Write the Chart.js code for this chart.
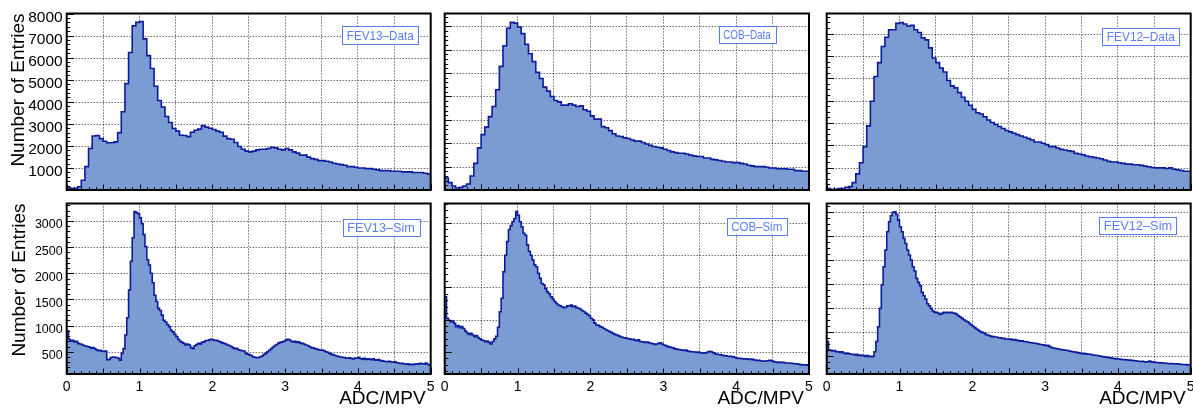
<!DOCTYPE html>
<html><head><meta charset="utf-8">
<script src="https://cdn.jsdelivr.net/npm/chart.js@4.4.1/dist/chart.umd.min.js"></script>
<style>
html,body{margin:0;padding:0;background:#fff;}
#wrap{position:relative;width:1193px;height:408px;overflow:hidden;background:#fff;}
canvas{position:absolute;left:0;top:0;}
</style></head><body><div id="wrap"></div>
<script>
// ---------- DATA ----------
const xRange = [0, 5];
const xTickLabels = ['0', '1', '2', '3', '4', '5'];
const panelLabels = ['FEV13–Data', 'COB–Data', 'FEV12–Data', 'FEV13–Sim', 'COB–Sim', 'FEV12–Sim'];
const yAxisTitle = 'Number of Entries';
const xAxisTitle = 'ADC/MPV';

// 100 bins of 0.05 (top row)
const fev13Data = [100, 80, 80, 150, 440, 1060, 1880, 2450, 2470, 2330,
  2210, 2140, 2140, 2180, 2600, 3550, 4820, 6230, 7440, 7600,
  7640, 6850, 6090, 5510, 4700, 4060, 3760, 3330, 3060, 2790,
  2670, 2480, 2470, 2420, 2620, 2710, 2760, 2920, 2850, 2800,
  2740, 2670, 2620, 2440, 2330, 2300, 2150, 1970, 1850, 1760,
  1730, 1760, 1820, 1850, 1850, 1880, 1940, 1910, 1850, 1820,
  1880, 1820, 1730, 1670, 1580, 1580, 1490, 1420, 1390, 1330,
  1330, 1300, 1270, 1210, 1180, 1150, 1120, 1060, 1060, 1030,
  1000, 1000, 970, 970, 940, 910, 880, 880, 880, 850,
  850, 850, 820, 820, 820, 790, 790, 790, 760, 730];

const cobData = [514, 314, 171, 86, 114, 171, 257, 600, 1140, 1800,
  2370, 2690, 3140, 3570, 4290, 5290, 6170, 6920, 7170, 7140,
  6970, 6690, 6230, 5830, 5490, 5030, 4770, 4400, 4230, 4000,
  3830, 3770, 3630, 3630, 3690, 3630, 3570, 3600, 3430, 3370,
  3170, 3030, 3030, 2710, 2660, 2540, 2400, 2310, 2290, 2230,
  2200, 2140, 2090, 2090, 2030, 1970, 1910, 1860, 1830, 1800,
  1740, 1690, 1630, 1600, 1570, 1570, 1540, 1490, 1460, 1430,
  1430, 1370, 1370, 1310, 1290, 1260, 1230, 1200, 1200, 1170,
  1170, 1140, 1110, 1060, 1030, 1000, 1000, 1000, 970, 940,
  940, 910, 910, 910, 890, 890, 830, 830, 800, 800];

const fev12Data = [60, 30, 30, 60, 60, 120, 150, 330, 720, 1220,
  1940, 2870, 3970, 5080, 5700, 6420, 6840, 7170, 7170, 7460,
  7490, 7430, 7340, 7370, 7170, 7050, 6810, 6720, 6360, 5910,
  5700, 5460, 5280, 4900, 4660, 4570, 4360, 4150, 3970, 3790,
  3610, 3460, 3400, 3280, 3130, 3020, 2930, 2840, 2750, 2660,
  2600, 2540, 2480, 2420, 2360, 2300, 2240, 2150, 2150, 2090,
  2030, 1940, 1940, 1880, 1820, 1790, 1760, 1730, 1640, 1610,
  1580, 1520, 1490, 1460, 1430, 1400, 1340, 1280, 1250, 1250,
  1220, 1190, 1160, 1160, 1130, 1130, 1100, 1070, 1040, 1010,
  990, 990, 990, 960, 990, 930, 900, 870, 840, 840];

// 200 bins of 0.025 (bottom row)
const fev13Sim = [900, 740, 700, 720, 690, 700, 660, 650, 640, 620,
  610, 600, 590, 570, 580, 560, 540, 520, 530, 510,
  505, 515, 350, 355, 390, 400, 395, 390, 375, 340,
  470, 560, 820, 1150, 1680, 2230, 2680, 3180, 3160, 3140,
  3060, 2950, 2740, 2510, 2260, 2160, 2000, 1820, 1580, 1460,
  1330, 1290, 1200, 1100, 1070, 1020, 980, 910, 880, 830,
  790, 740, 700, 680, 660, 630, 650, 630, 580, 560,
  615, 640, 660, 650, 680, 690, 715, 715, 730, 740,
  730, 715, 720, 700, 690, 670, 660, 650, 630, 620,
  600, 575, 560, 565, 540, 530, 520, 515, 470, 455,
  440, 430, 405, 395, 385, 390, 405, 420, 450, 470,
  500, 530, 560, 590, 620, 640, 665, 680, 690, 700,
  720, 740, 730, 700, 690, 700, 680, 690, 665, 660,
  650, 630, 620, 600, 580, 575, 560, 550, 540, 530,
  535, 520, 500, 490, 470, 455, 440, 430, 420, 410,
  400, 395, 390, 380, 375, 385, 370, 365, 380, 375,
  395, 370, 360, 375, 355, 365, 360, 350, 365, 345,
  340, 350, 330, 325, 320, 315, 310, 320, 305, 300,
  310, 290, 285, 275, 280, 265, 260, 270, 255, 260,
  255, 265, 270, 260, 280, 270, 265, 285, 260, 245];

const cobSim = [1355, 1020, 990, 965, 975, 940, 890, 905, 875, 890,
  860, 820, 790, 770, 785, 760, 735, 750, 720, 700,
  680, 675, 655, 665, 645, 620, 660, 700, 740, 880,
  1120, 1330, 1740, 2000, 2210, 2400, 2460, 2520, 2570, 2676,
  2620, 2520, 2440, 2340, 2310, 2160, 2060, 2000, 1925, 1850,
  1820, 1720, 1640, 1560, 1540, 1480, 1430, 1400, 1355, 1320,
  1280, 1250, 1225, 1215, 1200, 1185, 1190, 1215, 1210, 1225,
  1200, 1210, 1185, 1175, 1165, 1140, 1125, 1100, 1080, 1060,
  1020, 995, 945, 915, 910, 890, 880, 860, 845, 830,
  815, 800, 785, 770, 760, 750, 735, 725, 718, 712,
  705, 700, 690, 695, 680, 670, 685, 660, 655, 650,
  645, 650, 635, 630, 625, 615, 620, 630, 640, 620,
  605, 595, 580, 575, 565, 560, 545, 540, 535, 530,
  525, 520, 525, 510, 505, 500, 500, 495, 490, 495,
  485, 480, 478, 485, 495, 505, 500, 485, 470, 460,
  458, 455, 445, 440, 438, 430, 428, 425, 420, 410,
  400, 395, 398, 390, 386, 392, 385, 380, 386, 378,
  370, 366, 365, 360, 356, 352, 355, 360, 368, 362,
  350, 340, 335, 338, 332, 336, 330, 326, 324, 322,
  320, 316, 314, 312, 306, 300, 296, 293, 295, 290];

const fev12Sim = [798, 625, 618, 604, 611, 590, 590, 576, 590, 562,
  548, 562, 548, 535, 535, 521, 535, 514, 521, 507,
  507, 493, 507, 493, 486, 493, 590, 798, 1109, 1490,
  1975, 2356, 2702, 3083, 3290, 3415, 3485, 3499, 3443, 3325,
  3187, 3083, 2945, 2840, 2702, 2598, 2494, 2356, 2266, 2114,
  2030, 1961, 1823, 1753, 1684, 1587, 1546, 1490, 1435, 1407,
  1407, 1386, 1366, 1386, 1407, 1400, 1407, 1400, 1407, 1393,
  1386, 1366, 1338, 1310, 1283, 1255, 1227, 1213, 1179, 1144,
  1116, 1089, 1061, 1033, 1006, 992, 978, 950, 936, 922,
  909, 902, 895, 895, 881, 881, 867, 867, 853, 853,
  850, 845, 835, 840, 825, 820, 810, 815, 800, 795,
  790, 780, 775, 770, 765, 760, 750, 740, 735, 730,
  715, 720, 700, 680, 665, 660, 650, 645, 635, 630,
  625, 620, 615, 605, 595, 590, 580, 575, 565, 560,
  550, 555, 545, 540, 535, 530, 520, 515, 510, 505,
  495, 490, 482, 478, 470, 465, 455, 450, 445, 440,
  438, 432, 428, 424, 422, 418, 415, 410, 408, 400,
  395, 390, 385, 388, 382, 378, 380, 395, 378, 372,
  368, 365, 360, 358, 355, 352, 348, 345, 340, 342,
  338, 335, 340, 333, 328, 325, 322, 320, 316, 312];

// ---------- LAYOUT / STYLE ----------
const W = 1193, H = 408;
const YW = 60, XH = 30;
const FONT = "'Liberation Sans', Arial, Helvetica, sans-serif";
const FILL = '#7b9bd3';
const LINE = '#0d1a9a';
const GRID = 'rgba(0,0,0,0.85)';
const BOXC = '#5b7df3';

const cols = [[66.7, 430.7], [444.7, 809], [826.7, 1190.7]];
const rows = [[13.5, 190], [203.5, 374]];

const panels = [
  {values: fev13Data, label: panelLabels[0], col: 0, row: 0, y: {min: 0, max: 8000, step: 1000, minor: 5}, yLabels: true, yFont: 15.5, box: [342.3, 26, 76, 18.3]},
  {values: cobData, label: panelLabels[1], col: 1, row: 0, y: {min: 0, max: 7550, step: 1000, minor: 5}, yLabels: false, box: [718.7, 26, 56.6, 17.3]},
  {values: fev12Data, label: panelLabels[2], col: 2, row: 0, y: {min: 0, max: 7900, step: 1000, minor: 4}, yLabels: false, box: [1102.3, 28.3, 77, 17]},
  {values: fev13Sim, label: panelLabels[3], col: 0, row: 1, y: {min: 75, max: 3335, step: 500, minor: 5}, yLabels: true, yFont: 12.5, box: [342.7, 219, 76.6, 16.7]},
  {values: cobSim, label: panelLabels[4], col: 1, row: 1, y: {min: 154, max: 2803, step: 500, minor: 5}, yLabels: false, box: [726.7, 217.7, 60, 16.6]},
  {values: fev12Sim, label: panelLabels[5], col: 2, row: 1, y: {min: 126, max: 3670, step: 500, minor: 4}, yLabels: false, box: [1099.3, 217.3, 77.4, 16.7]}
];

function histPoints(values, lo, hi) {
  const w = (hi - lo) / values.length;
  const pts = values.map((v, i) => ({x: lo + i * w, y: v}));
  pts.push({x: hi, y: values[values.length - 1]});
  return pts;
}

function majorValues(p) {
  const out = [];
  for (let k = Math.ceil(p.y.min / p.y.step); k * p.y.step <= p.y.max; k++) out.push(k * p.y.step);
  return out;
}

const decoPlugin = {
  id: 'deco',
  beforeDatasetsDraw(chart, args, o) {
    const p = o.panel;
    const {ctx, chartArea: a} = chart;
    const ys = chart.scales.y;
    ctx.save();
    ctx.strokeStyle = GRID;
    ctx.lineWidth = 1;
    ctx.setLineDash([1, 2]);
    ctx.beginPath();
    majorValues(p).forEach(v => {
      const py = Math.round(ys.getPixelForValue(v)) + 0.5;
      if (py <= a.top + 1 || py >= a.bottom - 1) return;
      ctx.moveTo(a.left, py); ctx.lineTo(a.right, py);
    });
    ctx.stroke();
    ctx.restore();
  },
  afterDraw(chart, args, o) {
    const p = o.panel;
    const {ctx, chartArea: a} = chart;
    const xs = chart.scales.x, ys = chart.scales.y;
    ctx.save();
    ctx.strokeStyle = '#000';
    ctx.lineWidth = 1;
    ctx.beginPath();
    for (let k = 0; k <= 50; k++) {
      const px = Math.round(xs.getPixelForValue(k * 0.1)) + 0.5;
      const len = (k % 5 === 0) ? 5.5 : 2.8;
      ctx.moveTo(px, a.bottom); ctx.lineTo(px, a.bottom - len);
    }
    const ms = p.y.step / p.y.minor;
    for (let k = Math.ceil(p.y.min / ms); k * ms <= p.y.max; k++) {
      const py = Math.round(ys.getPixelForValue(k * ms)) + 0.5;
      const len = (k % p.y.minor === 0) ? 7 : 3.5;
      ctx.moveTo(a.left, py); ctx.lineTo(a.left + len, py);
    }
    ctx.stroke();
    ctx.lineWidth = 2;
    ctx.strokeRect(a.left, a.top, a.right - a.left, a.bottom - a.top);
    // label box
    const [bx, by, bw, bh] = p.box;
    ctx.fillStyle = '#fff';
    ctx.fillRect(bx, by, bw, bh);
    ctx.lineWidth = 1;
    ctx.strokeStyle = BOXC;
    ctx.strokeRect(Math.round(bx) + 0.5, Math.round(by) + 0.5, Math.round(bw), Math.round(bh));
    ctx.fillStyle = BOXC;
    ctx.font = '13px ' + FONT;
    ctx.textAlign = 'center';
    ctx.textBaseline = 'middle';
    const tw = ctx.measureText(p.label).width;
    const target = bw - 9;
    ctx.save();
    ctx.translate(bx + bw / 2, by + bh / 2 + 1);
    ctx.scale(target / tw, 1);
    ctx.fillText(p.label, 0, 0);
    ctx.restore();
    // axis titles
    ctx.fillStyle = '#000';
    ctx.font = '19px ' + FONT;
    if (p.col === 0) {
      ctx.save();
      ctx.translate(p.row === 0 ? 18.5 : 20, a.top);
      ctx.rotate(-Math.PI / 2);
      ctx.textAlign = 'right';
      ctx.textBaseline = 'middle';
      ctx.fillText(yAxisTitle, 0, 0);
      ctx.restore();
    }
    if (p.row === 1) {
      ctx.textAlign = 'right';
      ctx.textBaseline = 'alphabetic';
      ctx.fillText(xAxisTitle, a.right - 5, 404);
    }
    ctx.restore();
  }
};

const wrap = document.getElementById('wrap');
panels.forEach((p) => {
  const cv = document.createElement('canvas');
  cv.width = W; cv.height = H;
  cv.style.width = W + 'px'; cv.style.height = H + 'px';
  wrap.appendChild(cv);
  const [l, r] = cols[p.col];
  const [t, b] = rows[p.row];
  const step = p.y.step;
  new Chart(cv, {
    type: 'line',
    data: {datasets: [{
      data: histPoints(p.values, xRange[0], xRange[1]),
      stepped: true, fill: 'start',
      backgroundColor: FILL, borderColor: LINE, borderWidth: 1.6,
      pointRadius: 0, pointHoverRadius: 0, tension: 0
    }]},
    options: {
      responsive: false, animation: false, devicePixelRatio: 1, events: [],
      layout: {padding: {left: l - YW, right: W - r, top: t, bottom: H - b - XH}},
      plugins: {legend: {display: false}, tooltip: {enabled: false}, deco: {panel: p}},
      scales: {
        x: {
          type: 'linear', min: xRange[0], max: xRange[1],
          afterFit(s) { s.height = XH; s.paddingLeft = 0; s.paddingRight = 0; },
          grid: {color: GRID, lineWidth: 1, drawTicks: false},
          border: {display: false, dash: [1, 2]},
          ticks: {
            stepSize: 0.5, autoSkip: false, maxRotation: 0, minRotation: 0, display: p.row === 1,
            padding: 5, color: '#000', font: {family: FONT, size: 14},
            callback: v => Number.isInteger(v) ? xTickLabels[v] : ''
          }
        },
        y: {
          type: 'linear', min: p.y.min, max: p.y.max,
          afterFit(s) { s.width = YW; s.paddingTop = 0; s.paddingBottom = 0; },
          afterBuildTicks(s) { s.ticks = majorValues(p).map(v => ({value: v})); },
          grid: {display: false, drawTicks: false},
          border: {display: false},
          ticks: {
            stepSize: step, autoSkip: false, display: p.yLabels,
            padding: 4, labelOffset: 4, color: '#000', font: {family: FONT, size: p.yFont || 12},
            callback: v => v === 0 ? '' : String(v)
          }
        }
      }
    },
    plugins: [decoPlugin]
  });
});
</script>
</body></html>
